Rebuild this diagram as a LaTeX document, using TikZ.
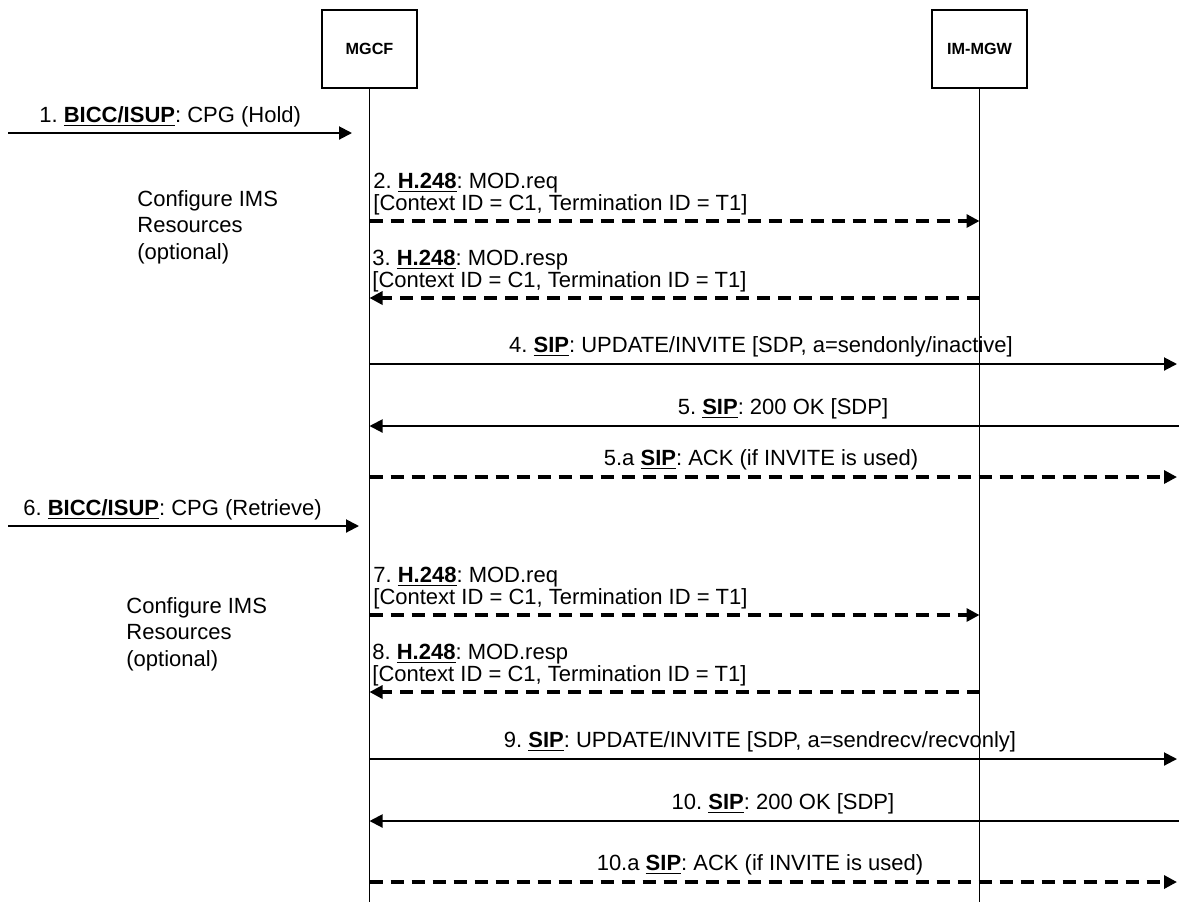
\documentclass[tikz,border=0pt]{standalone}
\usepackage{fontspec}
\setmainfont{Liberation Sans}
\frenchspacing
\usetikzlibrary{positioning, arrows.meta}

\begin{document}
\begin{tikzpicture}[
    x=0.5pt, y=-0.5pt,
    font=\fontsize{11}{10.6}\selectfont\frenchspacing,
    ent/.style={draw, line width=1pt, minimum width=47.5pt, minimum height=39pt,
                inner sep=0pt, font=\fontsize{8.1}{9}\selectfont\bfseries},
    life/.style={line width=0.75pt},
    msg/.style={-{Triangle[length=6.5pt, width=6.5pt]}, line width=1pt},
    req/.style={msg, line width=1.6pt, dash pattern=on 6.5pt off 4pt},
    lbl/.style={inner sep=0pt, align=left},
  ]
    \useasboundingbox (0,0) rectangle (1179,902);
    % entities and lifelines
    \node[ent] (mgcf) at (369.5,49) {MGCF};
    \node[ent, right=256.5pt of mgcf] (immgw) {IM-MGW};
    \coordinate (mgcfEnd) at (mgcf.south |- 0,902);
    \coordinate (immgwEnd) at (immgw.south |- 0,902);
    \draw[life] (mgcf.south) -- (mgcfEnd);
    \draw[life] (immgw.south) -- (immgwEnd);

    % hold
    \coordinate (in1) at (8,133);
    \coordinate (to1) at (352,133);
    \draw[msg] (in1) -- (to1);
    \node[lbl, anchor=base west] (l1) at (39,122.5) {1. \underline{\textbf{BICC/ISUP}}: CPG (Hold)};

    \node[lbl, anchor=west, font=\fontsize{11}{13.25}\selectfont] (cfg1) at (137,227) {Configure IMS\\Resources\\(optional)};

    \coordinate (c2) at (mgcf.south |- 0,221);
    \coordinate (g2) at (immgw.south |- 0,221);
    \draw[req] (c2) -- (g2);
    \node[lbl, anchor=south west] (l2) at (373,215) {2. \underline{\textbf{H.248}}: MOD.req\\{[}Context ID = C1, Termination ID = T1]};

    \coordinate (g3) at (immgw.south |- 0,298);
    \coordinate (c3) at (mgcf.south |- 0,298);
    \draw[req] (g3) -- (c3);
    \node[lbl, anchor=south west] (l3) at (372,292) {3. \underline{\textbf{H.248}}: MOD.resp\\{[}Context ID = C1, Termination ID = T1]};

    \coordinate (c4) at (mgcf.south |- 0,364);
    \coordinate (out4) at (1177,364);
    \draw[msg] (c4) -- (out4);
    \node[lbl, anchor=base] (l4) at (761,352.5) {4. \underline{\textbf{SIP}}: UPDATE/INVITE [SDP, a=sendonly/inactive]};

    \coordinate (in5) at (1179,426);
    \coordinate (c5) at (mgcf.south |- 0,426);
    \draw[msg] (in5) -- (c5);
    \node[lbl, anchor=base] (l5) at (783,414.5) {5. \underline{\textbf{SIP}}: 200 OK [SDP]};

    \coordinate (c5a) at (mgcf.south |- 0,477);
    \coordinate (out5a) at (1177,477);
    \draw[req] (c5a) -- (out5a);
    \node[lbl, anchor=base] (l5a) at (761,465.5) {5.a \underline{\textbf{SIP}}: ACK (if INVITE is used)};

    % retrieve
    \coordinate (in6) at (8,526);
    \coordinate (to6) at (359,526);
    \draw[msg] (in6) -- (to6);
    \node[lbl, anchor=base west] (l6) at (23,515.5) {6. \underline{\textbf{BICC/ISUP}}: CPG (Retrieve)};

    \node[lbl, anchor=west, font=\fontsize{11}{13.25}\selectfont] (cfg2) at (126,634) {Configure IMS\\Resources\\(optional)};

    \coordinate (c7) at (mgcf.south |- 0,615);
    \coordinate (g7) at (immgw.south |- 0,615);
    \draw[req] (c7) -- (g7);
    \node[lbl, anchor=south west] (l7) at (373,609) {7. \underline{\textbf{H.248}}: MOD.req\\{[}Context ID = C1, Termination ID = T1]};

    \coordinate (g8) at (immgw.south |- 0,692);
    \coordinate (c8) at (mgcf.south |- 0,692);
    \draw[req] (g8) -- (c8);
    \node[lbl, anchor=south west] (l8) at (372,686) {8. \underline{\textbf{H.248}}: MOD.resp\\{[}Context ID = C1, Termination ID = T1]};

    \coordinate (c9) at (mgcf.south |- 0,759);
    \coordinate (out9) at (1177,759);
    \draw[msg] (c9) -- (out9);
    \node[lbl, anchor=base] (l9) at (760,747.5) {9. \underline{\textbf{SIP}}: UPDATE/INVITE [SDP, a=sendrecv/recvonly]};

    \coordinate (in10) at (1179,821);
    \coordinate (c10) at (mgcf.south |- 0,821);
    \draw[msg] (in10) -- (c10);
    \node[lbl, anchor=base] (l10) at (783,809.5) {10. \underline{\textbf{SIP}}: 200 OK [SDP]};

    \coordinate (c10a) at (mgcf.south |- 0,882);
    \coordinate (out10a) at (1177,882);
    \draw[req] (c10a) -- (out10a);
    \node[lbl, anchor=base] (l10a) at (760,870.5) {10.a \underline{\textbf{SIP}}: ACK (if INVITE is used)};
  \end{tikzpicture}
\end{document}
